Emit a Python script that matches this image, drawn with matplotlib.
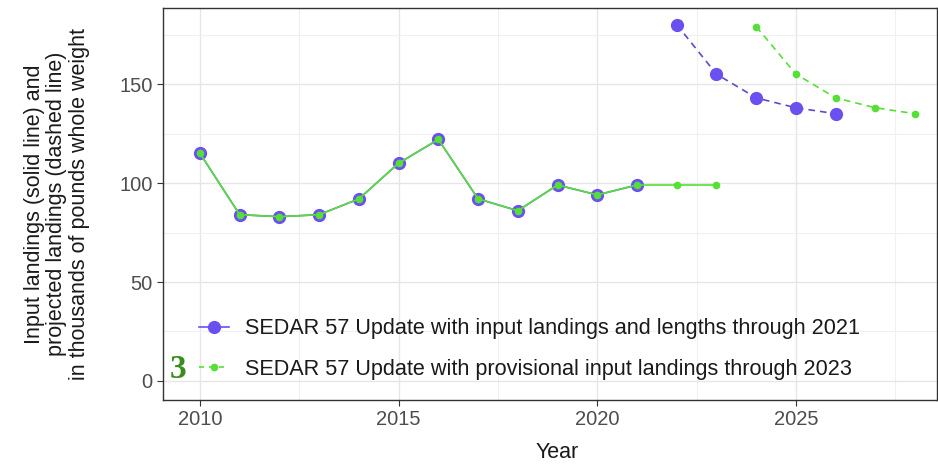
import matplotlib
matplotlib.use('Agg')
import matplotlib.pyplot as plt
from matplotlib.lines import Line2D

plt.rcParams['font.family'] = ['Liberation Sans', 'DejaVu Sans']

# 数据
obs_years_21 = list(range(2010, 2022))
obs_vals_21 = [115, 84, 83, 84, 92, 110, 122, 92, 86, 99, 94, 99]
proj_years_21 = [2022, 2023, 2024, 2025, 2026]
proj_vals_21 = [180, 155, 143, 138, 135]

obs_years_23 = list(range(2010, 2024))
obs_vals_23 = [115, 84, 83, 84, 92, 110, 122, 92, 86, 99, 94, 99, 99, 99]
proj_years_23 = [2024, 2025, 2026, 2027, 2028]
proj_vals_23 = [179, 155, 143, 138, 135]

labels = ['SEDAR 57 Update with input landings and lengths through 2021',
          'SEDAR 57 Update with provisional input landings through 2023']

blue = '#6a50f0'
green = '#55e035'

fig = plt.figure(figsize=(9.38, 4.65), dpi=100)
ax = fig.add_axes([163 / 938, 65 / 465, 774 / 938, 392 / 465])

# 2021 版本（蓝色）
ax.plot(obs_years_21, obs_vals_21, color=blue, lw=1.2, marker='o', ms=8.5,
        mec=blue, zorder=2)
ax.plot(proj_years_21, proj_vals_21, color='#5b4cc8', lw=1.2, ls=(0, (4, 3)),
        zorder=2)
ax.plot(proj_years_21, proj_vals_21, color=blue, lw=0, marker='o', ms=8.5,
        zorder=3)

# 2023 版本（绿色）
ax.plot(obs_years_23, obs_vals_23, color=green, lw=1.2, marker='o', ms=4.5,
        zorder=4)
ax.plot(proj_years_23, proj_vals_23, color=green, lw=1.2, ls=(0, (4, 3)),
        marker='o', ms=4.5, zorder=4)

ax.set_xlim(2009.07, 2028.55)
ax.set_ylim(-9.6, 188.4)
ax.set_xticks([2010, 2015, 2020, 2025])
ax.set_yticks([0, 50, 100, 150])
ax.set_xticks([2012.5, 2017.5, 2022.5, 2027.5], minor=True)
ax.set_yticks([25, 75, 125, 175], minor=True)
ax.grid(True, which='major', color='#e6e6e6', lw=1.0, zorder=0)
ax.grid(True, which='minor', color='#f0f0f0', lw=0.8, zorder=0)
ax.set_axisbelow(True)
ax.tick_params(which='major', labelsize=14.5, labelcolor='#4d4d4d',
               color='#333333', length=4)
ax.tick_params(which='minor', length=0)
for s in ax.spines.values():
    s.set_color('#333333')
    s.set_linewidth(1.0)

ax.set_xlabel('Year', fontsize=15.5, color='#1a1a1a')
ax.xaxis.set_label_coords((557 - 163) / 774, (400 - 442) / 392)
ax.set_ylabel('Input landings (solid line) and\nprojected landings (dashed line)\nin thousands of pounds whole weight',
              fontsize=15.5, color='#1a1a1a', linespacing=1.1)
ax.yaxis.set_label_coords((90 - 163) / 774, 0.5)

handles = [
    Line2D([], [], color=blue, lw=1.2, marker='o', ms=8.5),
    Line2D([], [], color=green, lw=1.2, ls=(0, (3, 3)), marker='o', ms=4.5),
]
ax.legend(handles, labels, loc='lower left', bbox_to_anchor=(0.021, 0.002),
          frameon=False, fontsize=15.6, handlelength=1.4, handletextpad=0.75,
          labelspacing=0.9, labelcolor='#1a1a1a')

fig.text(170 / 938, 1 - 378 / 465, '3', fontsize=24, fontweight='bold',
         family='Liberation Serif', color='#3a8c1c', ha='left', va='baseline')

fig.savefig('out.png', dpi=100)
